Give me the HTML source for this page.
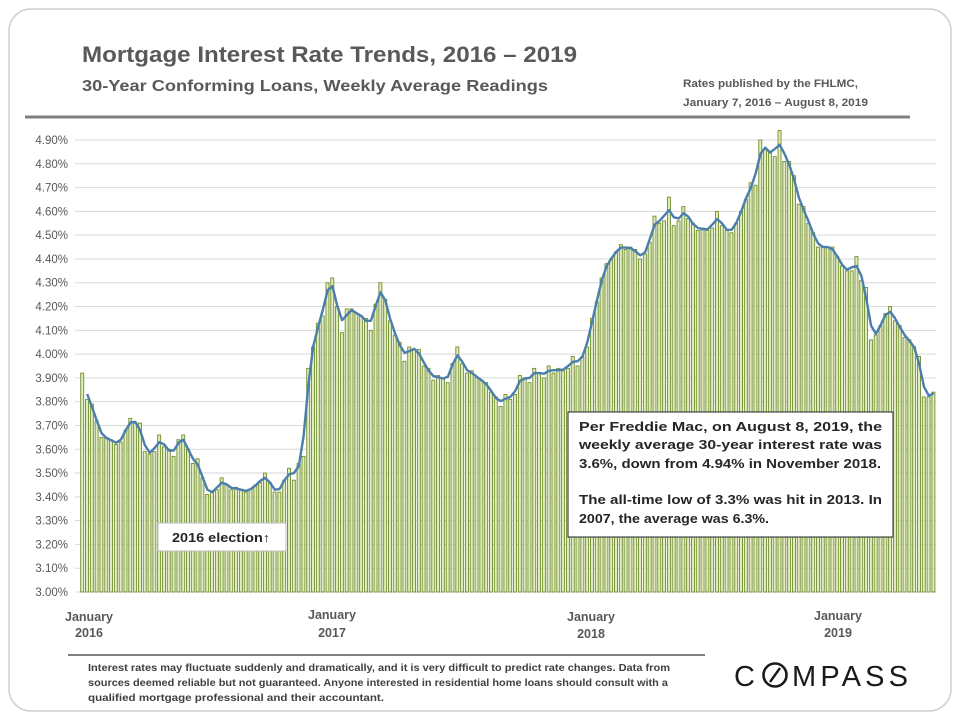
<!DOCTYPE html>
<html><head><meta charset="utf-8"><style>
html,body{margin:0;padding:0;background:#fff;}
svg{display:block;font-family:"Liberation Sans",sans-serif;}
</style></head><body>
<svg id="chart" width="960" height="720" viewBox="0 0 960 720">
<rect x="9" y="9" width="942" height="702" rx="22" fill="#fff" stroke="#cfcfcf" stroke-width="1.5"/>
<text x="82" y="62" font-size="22" font-weight="bold" fill="#595959" textLength="495" lengthAdjust="spacingAndGlyphs">Mortgage Interest Rate Trends, 2016 – 2019</text>
<text x="82" y="91" font-size="16" font-weight="bold" fill="#595959" textLength="466" lengthAdjust="spacingAndGlyphs">30-Year Conforming  Loans,  Weekly Average Readings</text>
<text x="683" y="87" font-size="11" font-weight="bold" fill="#595959" textLength="175" lengthAdjust="spacingAndGlyphs">Rates published by the FHLMC,</text>
<text x="683" y="106" font-size="11" font-weight="bold" fill="#595959" textLength="185" lengthAdjust="spacingAndGlyphs">January 7, 2016 – August 8, 2019</text>
<line x1="25" y1="117" x2="910" y2="117" stroke="#7f7f7f" stroke-width="3"/>
<g id="grid"></g><g id="bars"></g><g id="trend"></g><g id="ylabels"></g>
<g font-size="12.5" font-weight="bold" fill="#595959" text-anchor="middle">
<text x="89" y="621">January</text><text x="89" y="637">2016</text>
<text x="332" y="619">January</text><text x="332" y="637">2017</text>
<text x="591" y="621">January</text><text x="591" y="638">2018</text>
<text x="838" y="620">January</text><text x="838" y="637">2019</text>
</g>
<g>
<rect x="158" y="523" width="128" height="28" fill="#fff" stroke="#bfbfbf"/>
<text x="172" y="542" font-size="12.5" font-weight="bold" fill="#262626" textLength="98" lengthAdjust="spacingAndGlyphs">2016 election↑</text>
</g>
<g font-size="13" font-weight="bold" fill="#262626">
<rect x="568" y="412" width="325" height="125" fill="#fff" stroke="#262626"/>
<text x="579" y="431" textLength="303" lengthAdjust="spacingAndGlyphs">Per Freddie Mac, on August 8, 2019, the</text>
<text x="579" y="449" textLength="303" lengthAdjust="spacingAndGlyphs">weekly average 30-year interest rate was</text>
<text x="579" y="468" textLength="302" lengthAdjust="spacingAndGlyphs">3.6%, down from 4.94% in November 2018.</text>
<text x="579" y="504" textLength="303" lengthAdjust="spacingAndGlyphs">The all-time low of 3.3% was hit in 2013. In</text>
<text x="579" y="523" textLength="190" lengthAdjust="spacingAndGlyphs">2007, the average was 6.3%.</text>
</g>
<line x1="68" y1="655" x2="705" y2="655" stroke="#7f7f7f" stroke-width="2"/>
<g font-size="10.5" fill="#404040" font-weight="bold">
<text x="88" y="671" textLength="582" lengthAdjust="spacingAndGlyphs">Interest rates may fluctuate suddenly and dramatically, and it is very difficult to predict rate changes. Data from</text>
<text x="88" y="686" textLength="580" lengthAdjust="spacingAndGlyphs">sources deemed reliable but not guaranteed. Anyone interested in residential home loans should consult with a</text>
<text x="88" y="701" textLength="296" lengthAdjust="spacingAndGlyphs">qualified mortgage professional and their accountant.</text>
</g>
<g>
<text x="734" y="686" font-size="29" fill="#1a1a1a">C</text>
<circle cx="775" cy="675" r="11.5" fill="none" stroke="#1a1a1a" stroke-width="2.6"/>
<line x1="770" y1="682" x2="780" y2="668" stroke="#1a1a1a" stroke-width="2.4"/>
<text x="792" y="686" font-size="29" fill="#1a1a1a" textLength="116" lengthAdjust="spacing">MPASS</text>
</g>
</svg>
<script>
const yTicks = [3.0,3.1,3.2,3.3,3.4,3.5,3.6,3.7,3.8,3.9,4.0,4.1,4.2,4.3,4.4,4.5,4.6,4.7,4.8,4.9];
const rates2016 = [3.92,3.81,3.79,3.72,3.65,3.65,3.64,3.62,3.63,3.68,3.73,3.71,3.71,3.59,3.58,3.59,3.66,3.61,3.60,3.57,3.64,3.66,3.60,3.54,3.56,3.48,3.41,3.42,3.43,3.48,3.45,3.43,3.44,3.43,3.42,3.43,3.45,3.46,3.50,3.46,3.42,3.42,3.47,3.52,3.47,3.54,3.57,3.94,4.03,4.13,4.16,4.30,4.32,4.20];
const rates2017 = [4.09,4.19,4.19,4.17,4.16,4.15,4.10,4.21,4.30,4.23,4.14,4.08,4.05,3.97,4.03,4.02,4.02,3.95,3.94,3.89,3.91,3.90,3.88,3.96,4.03,3.96,3.92,3.93,3.90,3.89,3.88,3.84,3.82,3.78,3.83,3.81,3.83,3.91,3.90,3.88,3.94,3.92,3.90,3.95,3.92,3.94,3.93,3.94,3.99,3.95,3.99,4.03,4.15,4.22];
const rates2018 = [4.32,4.38,4.40,4.43,4.46,4.44,4.45,4.44,4.40,4.42,4.47,4.58,4.55,4.56,4.66,4.54,4.56,4.62,4.57,4.55,4.52,4.53,4.52,4.53,4.60,4.54,4.52,4.51,4.55,4.60,4.65,4.72,4.71,4.90,4.86,4.85,4.83,4.94,4.81,4.81,4.75,4.63,4.62,4.55,4.51,4.45,4.45,4.45,4.45,4.41,4.37,4.35,4.35,4.41,4.31];
const rates2019 = [4.28,4.06,4.08,4.12,4.17,4.20,4.14,4.12,4.07,4.06,4.03,3.99,3.82,3.82,3.84];
const rates = rates2016.concat(rates2017, rates2018, rates2019);
const NS = 'http://www.w3.org/2000/svg';
const X0 = 80, X1 = 936, YBASE = 592, YTOP = 140;
function yScale(v){ return YBASE - (v - 3.0) / (4.9 - 3.0) * (YBASE - YTOP); }
const step = (X1 - X0) / rates.length;
function xScale(i){ return X0 + i * step; }
function mk(tag, attrs, parent){ const e = document.createElementNS(NS, tag); for (const k in attrs) e.setAttribute(k, attrs[k]); parent.appendChild(e); return e; }
const grid = document.getElementById('grid'), ylab = document.getElementById('ylabels');
yTicks.forEach(t => {
  const y = yScale(t);
  const gl = mk('line', {x1:75, x2:936, y1:y, y2:y, stroke:'#d9d9d9', 'stroke-width':1}, grid);
  
  
  const tx = mk('text', {x:68, y:y+4, 'font-size':11.5, fill:'#595959', 'text-anchor':'end'}, ylab);
  tx.textContent = t.toFixed(2) + '%';
  
  
});
const bars = document.getElementById('bars');
rates.forEach((v, i) => {
  const y = yScale(v);
  const r = mk('rect', {x:xScale(i)+0.7, y:y, width:Math.max(step-1.8,1.5), height:YBASE-y, fill:'#e2ebbd', stroke:'#6f8f2e', 'stroke-width':0.9}, bars);
  
  
});
let pts = [];
for (let i = 1; i < rates.length; i++) {
  const b = rates[i-1], c = rates[i], d = rates[Math.min(i+1, rates.length-1)];
  const avg = (b + 2*c + d) / 4;
  pts.push([xScale(i) + step/2, yScale(avg)]);
}
const tl = mk('polyline', {points: pts.map(p => p[0].toFixed(1)+','+p[1].toFixed(1)).join(' '), fill:'none', stroke:'#4a7ead', 'stroke-width':2.4, 'stroke-linejoin':'round'}, document.getElementById('trend'));


</script>
</body></html>
